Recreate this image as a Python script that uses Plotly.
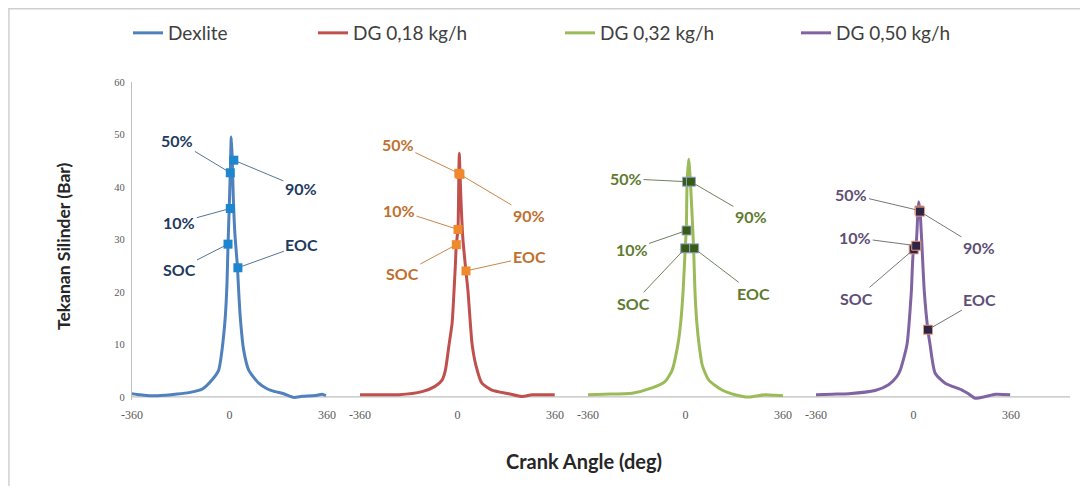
import plotly.graph_objects as go

# ---------------- data ----------------
series_names = ["Dexlite", "DG 0,18 kg/h", "DG 0,32 kg/h", "DG 0,50 kg/h"]
x_ticks = [-360, 0, 360]
y_ticks = [0, 10, 20, 30, 40, 50, 60]
stages = ["SOC", "10%", "50%", "90%", "EOC"]

angle_dexlite = [-360, -330, -290, -240, -200, -150, -100, -65, -40, -30, -22, -15.5, -9.2, -5.5, -1, 3, 6.6,
                 10, 14, 20, 29, 34, 40, 52, 71, 108, 140, 168, 200, 237, 268, 316, 342, 356]
p_dexlite = [0.6, 0.4, 0.2, 0.3, 0.5, 0.8, 1.5, 3.2, 5.1, 8, 11.5, 15.3, 21.7, 29, 36, 43, 49.5,
             45.5, 38, 31, 25, 20, 15, 9, 5.1, 2.6, 1.5, 1.0, 0.6, -0.1, 0.1, 0.25, 0.5, 0.25]

angle_dg018 = [-360, -300, -217, -131, -83, -57, -45, -31, -20, -13, -8, -4.4, 1.8, 5, 6.6, 9, 14, 20, 31,
               39, 46, 54, 68, 90, 127, 189, 238, 275, 323, 359]
p_dg018 = [0.4, 0.4, 0.4, 1.0, 2.0, 3.2, 5, 10, 14, 20, 25, 29, 32, 42.6, 46.4, 43, 36, 30, 24,
           20, 15, 10, 6, 2.6, 1.3, 0.6, 0.05, 0.4, 0.4, 0.4]

angle_dg032 = [-360, -300, -197, -124, -76, -50, -28, -18, -9, -1, 3, 6, 11.8, 18, 24, 30, 35, 42, 50,
               62, 86, 135, 183, 233, 294, 330, 360]
p_dg032 = [0.4, 0.5, 0.7, 1.7, 2.9, 5, 10, 14, 20, 28.3, 32, 41, 45.3, 41, 35, 28.3, 20, 14, 10,
           6, 3.2, 1.3, 0.4, -0.05, 0.4, 0.3, 0.2]

angle_dg050 = [-360, -300, -239, -142, -92, -61, -49, -24, -8, 0, 10, 15, 19, 24, 30, 40, 53, 61, 80,
               117, 179, 200, 228, 265, 302, 357]
p_dg050 = [0.4, 0.5, 0.6, 1.2, 2.3, 3.9, 5.1, 10, 20, 28, 29.5, 34, 37.2, 35.5, 30, 20, 12.8, 10, 4.5,
           2.6, 1.3, 0.7, -0.25, 0.05, 0.5, 0.4]

# marker points: SOC, 10%, 50%, 90%, EOC
mk_angle_dexlite = [-5.5, 3, 3, 16, 31]
mk_p_dexlite = [29.1, 35.9, 42.7, 45.1, 24.6]
mk_angle_dg018 = [-4.4, 1.8, 5, 9, 31.4]
mk_p_dg018 = [29.0, 31.9, 42.6, 42.4, 24.0]
mk_angle_dg032 = [-1, 4, 5.5, 20, 32]
mk_p_dg032 = [28.3, 31.7, 41.0, 41.0, 28.3]
mk_angle_dg050 = [0.7, 10, 22, 24, 53.5]
mk_p_dg050 = [28.1, 28.8, 35.5, 35.3, 12.8]

curves = [(angle_dexlite, p_dexlite), (angle_dg018, p_dg018), (angle_dg032, p_dg032), (angle_dg050, p_dg050)]
marks = [(mk_angle_dexlite, mk_p_dexlite), (mk_angle_dg018, mk_p_dg018),
         (mk_angle_dg032, mk_p_dg032), (mk_angle_dg050, mk_p_dg050)]

# ---------------- styles ----------------
OFF = 8  # page body margin in the browser
W, H = 1088 - OFF, 486 - OFF
ML, MR, MT = 132 - OFF, 18, 82 - OFF
MB = H - (400 - OFF)
PW, PH = W - ML - MR, H - MT - MB


def px_x(x):  # reference pixel -> paper x
    return (x - OFF - ML) / PW


def px_y(y):  # reference pixel -> paper y
    return (MT + PH - (y - OFF)) / PH


line_colors = ["#4F81BD", "#C0504D", "#9BBB59", "#8064A2"]
mk_fill = ["#1C86CE", "#F0892B", "#3A5A18", "#2E2444"]
mk_edge = ["#1C86CE", "#F0892B", "#8FA8C8", "#E69A7E"]
mk_edge_w = [0, 0, 1, 1]
text_colors = ["#1F3A5F", "#C0702E", "#5E7B2F", "#5E4F77"]
leader_colors = ["#557595", "#C8864A", "#6F7F60", "#767676"]
# pixel offsets of labels from markers, order SOC, 10%, 50%, 90%, EOC
label_offsets = [
    [(-49, 25), (-51, 14), (-53, -32), (67, 28), (64, -23)],
    [(-54, 29), (-59, -19), (-61, -29), (69, 41), (63, -14)],
    [(-52, 55), (-55, 19), (-61, -3), (60, 35), (59, 45)],
    [(-57, 49), (-61, -8), (-68, -16), (59, 36), (52, -30)],
]
legend_x_px = [128, 313, 560, 796]

panel_w, pitch = 195, 228

fig = go.Figure()
annotations = []
layout_axes = {}
for k in range(4):
    xname = "x" if k == 0 else f"x{k+1}"
    axkey = "xaxis" if k == 0 else f"xaxis{k+1}"
    lg = "legend" if k == 0 else f"legend{k+1}"
    a, p = curves[k]
    fig.add_trace(go.Scatter(x=a, y=p, mode="lines", name=series_names[k],
                             line=dict(color=line_colors[k], width=3, shape="spline", smoothing=0.6),
                             xaxis=xname, yaxis="y", legend=lg, showlegend=True))
    ma, mp = marks[k]
    fig.add_trace(go.Scatter(x=ma, y=mp, mode="markers", showlegend=False,
                             marker=dict(symbol="square", size=9, color=mk_fill[k],
                                         line=dict(color=mk_edge[k], width=mk_edge_w[k])),
                             xaxis=xname, yaxis="y"))
    d0 = (k * pitch) / PW
    d1 = (k * pitch + panel_w) / PW
    layout_axes[axkey] = dict(domain=[d0, d1], range=[-360, 360], anchor="y",
                              tickvals=x_ticks, ticktext=[str(v) for v in x_ticks],
                              showgrid=False, zeroline=False, showline=False, ticks="",
                              ticklabelstandoff=6,
                              tickfont=dict(family="Liberation Serif", size=12, color="#595959"),
                              fixedrange=True)
    for i, st in enumerate(stages):
        ox, oy = label_offsets[k][i]
        annotations.append(dict(x=ma[i], y=mp[i], xref=xname, yref="y", text=f"<b>{st}</b>",
                                showarrow=True, arrowhead=0, arrowwidth=1, arrowcolor=leader_colors[k],
                                ax=ox, ay=oy, standoff=4,
                                font=dict(family="Lato", size=16, color=text_colors[k])))
    layout_axes[lg] = dict(x=px_x(legend_x_px[k]), y=px_y(33),
                           xanchor="left", yanchor="middle", orientation="h",
                           bgcolor="rgba(0,0,0,0)",
                           font=dict(family="Lato", size=19, color="#404040"))

annotations.append(dict(text="<b>Tekanan Silinder (Bar)</b>", xref="paper", yref="paper",
                        x=px_x(63), y=px_y(247), xanchor="center", yanchor="middle",
                        showarrow=False, textangle=-90,
                        font=dict(family="Lato", size=17.5, color="#262626")))
annotations.append(dict(text="<b>Crank Angle (deg)</b>", xref="paper", yref="paper",
                        x=px_x(584), y=px_y(461), xanchor="center", yanchor="middle",
                        showarrow=False,
                        font=dict(family="Lato", size=20, color="#262626")))

shapes = [
    dict(type="line", xref="paper", yref="y", x0=0, x1=1, y0=0, y1=0,
         line=dict(color="#BFBFBF", width=1.2), layer="below"),
    dict(type="line", xref="paper", yref="paper", x0=-ML / PW + 0.0005, x1=1 + MR / PW,
         y0=px_y(8) - 0.002, y1=px_y(8) - 0.002, line=dict(color="#CFCFCF", width=1.5)),
    dict(type="line", xref="paper", yref="paper", x0=-ML / PW + 0.001, x1=-ML / PW + 0.001,
         y0=px_y(8), y1=-MB / PH, line=dict(color="#CFCFCF", width=1.5)),
]

fig.update_layout(
    width=W, height=H,
    margin=dict(l=ML, r=MR, t=MT, b=MB, autoexpand=False),
    paper_bgcolor="white", plot_bgcolor="white",
    yaxis=dict(range=[-0.6, 60], tickvals=y_ticks, showgrid=False, zeroline=False,
               showline=True, linecolor="#BFBFBF", linewidth=1.2, ticks="",
               ticklabelstandoff=4,
               tickfont=dict(family="Liberation Serif", size=10.5, color="#595959"),
               anchor="x", fixedrange=True),
    annotations=annotations, shapes=shapes,
    **layout_axes,
)
fig.write_html("out.html")
